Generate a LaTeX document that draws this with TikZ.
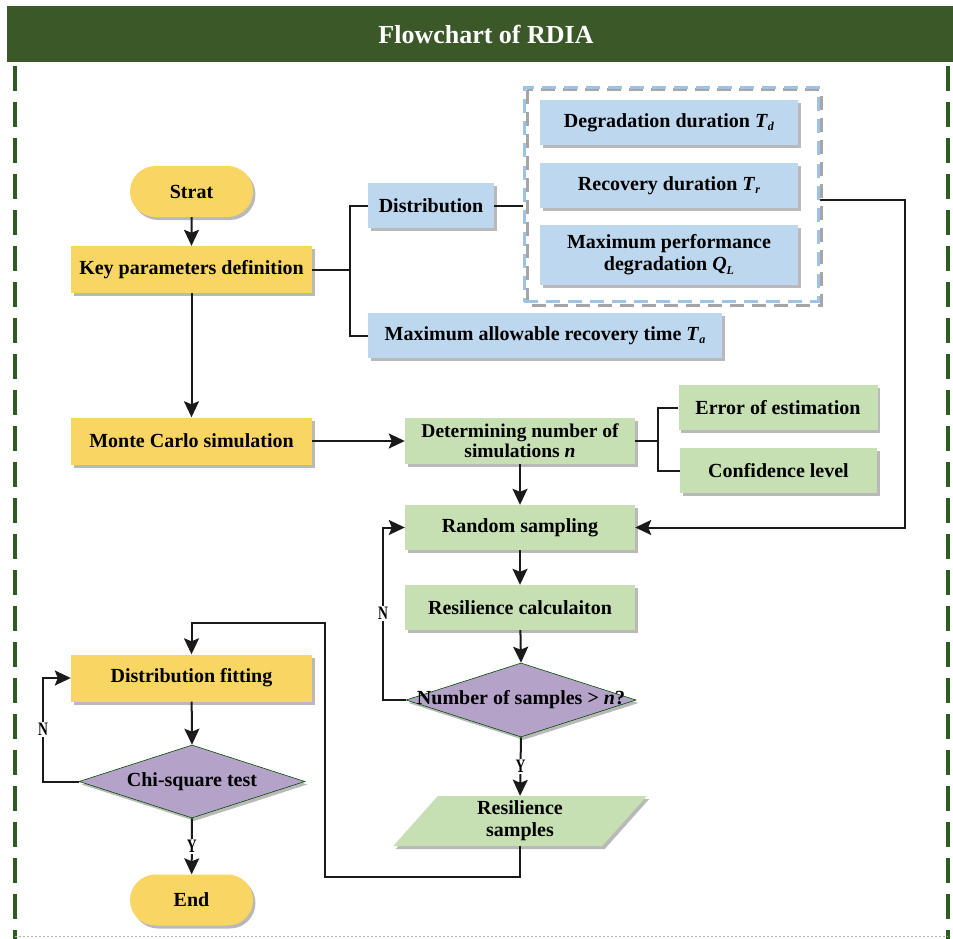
\documentclass[tikz,border=0pt]{standalone}
\usepackage{fontspec}
\setmainfont{Liberation Serif}
\usetikzlibrary{shapes.geometric,shapes.misc,shadows,arrows.meta}
\definecolor{ttlgreen}{HTML}{3B5829}
\definecolor{yel}{HTML}{F9D663}
\definecolor{blu}{HTML}{BDD7EE}
\definecolor{grn}{HTML}{C6E0B4}
\definecolor{pur}{HTML}{B4A2C9}
\definecolor{dashblu}{HTML}{9DC3E6}
\definecolor{framegrn}{HTML}{2F5A22}
\definecolor{lncol}{HTML}{1A1A1A}
\newcommand\sbs[2]{\textit{#1}\raisebox{-0.4ex}{\fontsize{12}{12}\selectfont\textit{#2}}}
\newcommand\yn[1]{\scalebox{0.72}[1]{#1}}
\begin{document}
\begin{tikzpicture}[x=1pt,y=-1pt,
  shad/.style={drop shadow={shadow xshift=2.5pt, shadow yshift=-3pt, fill=black!50, opacity=0.55}},
  box/.style={shad, draw=none, inner sep=2pt, align=center,
    font=\fontsize{20}{22}\selectfont\bfseries},
  ybox/.style={box, fill=yel, minimum width=241pt, minimum height=47pt},
  bbox/.style={box, fill=blu, minimum height=45pt},
  gbox/.style={box, fill=grn, minimum height=45pt},
  pill/.style={box, rounded rectangle, fill=yel, minimum width=127pt, minimum height=51pt},
  dia/.style={shad, diamond, fill=pur, draw=green!30!black, line width=0.6pt, inner sep=0pt},
  dtext/.style={align=center, font=\fontsize{20}{22}\selectfont\bfseries},
  ln/.style={draw=lncol, line width=2pt},
  arr/.style={ln, -{Stealth[length=16pt,width=15pt,inset=3pt]}},
  lab/.style={fill=white, inner sep=1.5pt, font=\fontsize{19}{19}\selectfont\bfseries},
  frameln/.style={draw=framegrn, line width=3.5pt, dash pattern=on 25pt off 11pt}
]
\useasboundingbox (0,0) rectangle (953,939);
% title bar and frame
\fill[ttlgreen] (7,6) rectangle (953,62);
\node[text=white, font=\fontsize{26}{28}\selectfont\bfseries] (title) at (486,34) {Flowchart of RDIA};
\draw[frameln] (15,66) -- (15,939);
\draw[frameln] (948,66) -- (948,939);
\draw[black!30, line width=0.8pt, dash pattern=on 2pt off 2pt] (15,936) -- (948,936);

% dashed group
\draw[black!35, line width=3pt, dash pattern=on 14pt off 8pt] (527,90) rectangle (821,305);
\node[draw=dashblu, line width=3pt, dash pattern=on 14pt off 8pt, minimum width=294pt, minimum height=214pt, inner sep=0pt] (grp) at (671,194.5) {};

% nodes
\node[pill] (start) at (191.5,191.5) {Strat};
\node[ybox] (key) at (191.5,269.5) {Key parameters definition};
\node[bbox, minimum width=126pt] (dist) at (431,205.5) {Distribution};
\node[bbox, minimum width=354pt] (maxa) at (545,335.5) {Maximum allowable recovery time \sbs{T}{a}};
\node[bbox, minimum width=258pt] (deg) at (669,122.5) {Degradation duration \sbs{T}{d}};
\node[bbox, minimum width=258pt] (rec) at (669,185.5) {Recovery duration \sbs{T}{r}};
\node[bbox, minimum width=258pt, minimum height=60pt] (mpd) at (669,254.5) {Maximum performance\\degradation \sbs{Q}{L}};
\node[ybox] (mc) at (191.5,441) {Monte Carlo simulation};
\node[gbox, minimum width=230pt, minimum height=46pt, font=\fontsize{19.5}{20.5}\selectfont\bfseries] (det) at (520,441) {Determining number of\\simulations \textit{n}};
\node[gbox, minimum width=199pt] (err) at (778,407.5) {Error of estimation};
\node[gbox, minimum width=197pt] (conf) at (778.5,470.5) {Confidence level};
\node[gbox, minimum width=230pt] (rand) at (520,527.5) {Random sampling};
\node[gbox, minimum width=230pt] (calc) at (520,607.5) {Resilience calculaiton};
\node[dia, minimum width=230pt, minimum height=74pt] (d1) at (521,700) {};
\node[dtext] (d1t) at (d1.center) {Number of samples > \textit{n}?};
\node[box, trapezium, trapezium stretches=true, trapezium left angle=60, trapezium right angle=120, fill=grn, minimum width=254pt, minimum height=50pt, inner sep=0pt] (rs) at (520,821) {Resilience\\samples};
\node[ybox] (fit) at (191.5,678) {Distribution fitting};
\node[dia, minimum width=226pt, minimum height=73pt] (d2) at (192,781.5) {};
\node[dtext] (d2t) at (d2.center) {Chi-square test};
\node[pill] (end) at (191.5,900) {End};

% coordinates
\coordinate (kb) at (350,269.5);
\coordinate (rc) at (905,200);
\coordinate (db) at (658,441);
\coordinate (n1) at (383,700);
\coordinate (c1) at (325,877);
\coordinate (c2) at (325,623);
\coordinate (n2) at (43,781.5);

% connectors
\draw[arr] (start) -- (key);
\draw[ln] (key.east) -- (kb);
\draw[ln] (dist.west) -| (kb) |- (maxa.west);
\draw[ln] (dist.east) -- (grp.west |- dist.east);
\draw[arr] (grp.east |- rc) -- (rc) |- (rand.east);
\draw[arr] (key) -- (mc);
\draw[arr] (mc) -- (det);
\draw[ln] (det.east) -- (db);
\draw[ln] (err.west) -| (db) |- (conf.west);
\draw[arr] (det) -- (rand);
\draw[arr] (rand) -- (calc);
\draw[arr] (calc) -- (d1.north);
\draw[arr] (d1.west) -- (n1) |- node[pos=0.25, lab] {\yn{N}} (rand.west);
\draw[arr] (d1.south) -- node[lab] {\yn{Y}} (rs.north);
\draw[arr] (rs.south) |- (c1) -- (c2) -| (fit.north);
\draw[arr] (fit) -- (d2.north);
\draw[arr] (d2.west) -- (n2) |- node[pos=0.25, lab] {\yn{N}} (fit.west);
\draw[arr] (d2.south) -- node[lab] {\yn{Y}} (end);
\end{tikzpicture}
\end{document}
